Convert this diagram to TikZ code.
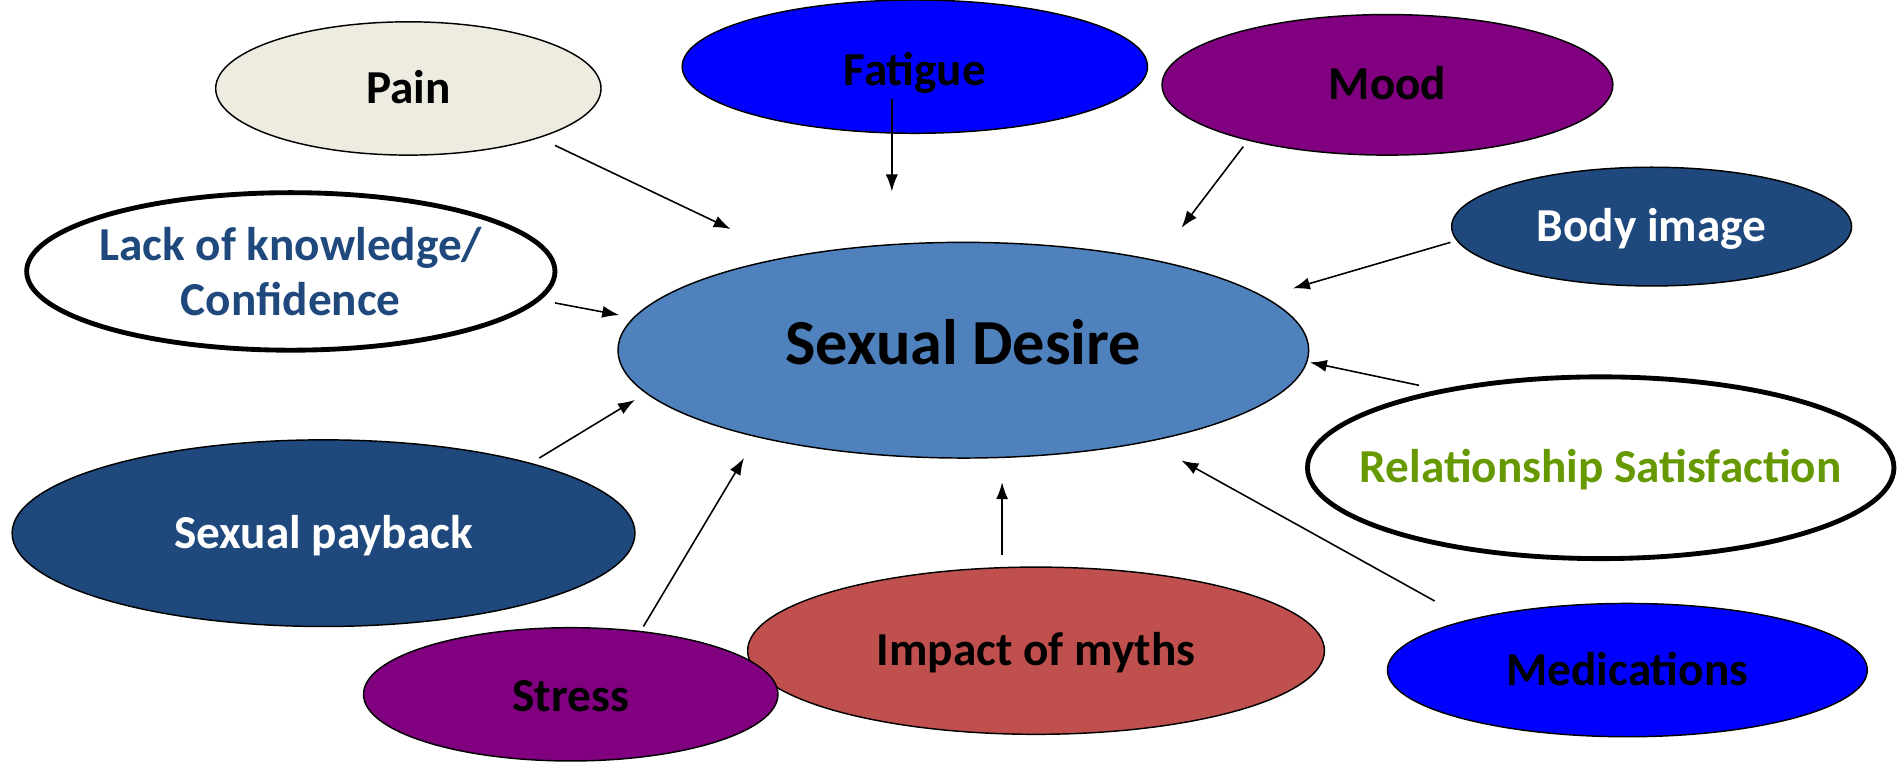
\documentclass[tikz,border=0pt]{standalone}
\usepackage{fontspec}
\setmainfont{Carlito}
\usetikzlibrary{shapes.geometric,arrows.meta}
\definecolor{beige}{HTML}{EEECE1}
\definecolor{pureblue}{HTML}{0000FF}
\definecolor{purp}{HTML}{800080}
\definecolor{navy}{HTML}{1F497D}
\definecolor{steel}{HTML}{4F81BD}
\definecolor{brick}{HTML}{C0504D}
\definecolor{leaf}{HTML}{669900}
\tikzset{
  oval/.style={ellipse, draw=black, line width=1.2pt, inner sep=0pt},
  thickoval/.style={oval, line width=4pt, fill=white},
  txt/.style={font=\fontsize{39}{45}\selectfont\bfseries, align=center,
    inner sep=0pt, text height=25pt, text depth=0pt},
  bigtxt/.style={font=\fontsize{53}{60}\selectfont\bfseries, align=center,
    inner sep=0pt, text height=34pt, text depth=0pt},
  txttwo/.style={font=\fontsize{39}{45}\selectfont\bfseries, align=center, inner sep=0pt},
  conn/.style={line width=1.3pt, -{Latex[length=14pt,width=10pt]}}
}
\begin{document}
\begin{tikzpicture}[x=1pt,y=-1pt]
\useasboundingbox (0,0) rectangle (1568,629);
% central
\node[oval, fill=steel, minimum width=570pt, minimum height=178pt,
  label={[bigtxt, yshift=5pt]center:Sexual Desire}] (desire) at (795,289) {};
% surrounding
\node[oval, fill=beige, minimum width=318pt, minimum height=110pt,
  label={[txt]center:Pain}] (pain) at (337,73) {};
\node[oval, fill=pureblue, minimum width=384pt, minimum height=110pt,
  label={[txt, yshift=-3pt]center:Fatigue}] (fatigue) at (755,55) {};
\node[oval, fill=purp, minimum width=372pt, minimum height=116pt,
  label={[txt]center:Mood}] (mood) at (1145,70) {};
\node[oval, fill=navy, minimum width=330pt, minimum height=98pt,
  label={[txt, text=white]center:Body image}] (body) at (1363,187) {};
\node[thickoval, minimum width=436pt, minimum height=130pt,
  label={[txttwo, text=navy]center:{Lack of knowledge/\\Confidence}}] (lack) at (240,224) {};
\node[thickoval, minimum width=484pt, minimum height=150pt,
  label={[txt, text=leaf]center:Relationship Satisfaction}] (rel) at (1321,386) {};
\node[oval, fill=navy, minimum width=514pt, minimum height=154pt,
  label={[txt, text=white]center:Sexual payback}] (payback) at (267,440) {};
\node[oval, fill=brick, minimum width=476pt, minimum height=138pt,
  label={[txt]center:Impact of myths}] (myths) at (855,537) {};
\node[oval, fill=purp, minimum width=342pt, minimum height=110pt,
  label={[txt, yshift=-2pt]center:Stress}] (stress) at (471,573) {};
\node[oval, fill=pureblue, minimum width=396pt, minimum height=110pt,
  label={[txt]center:Medications}] (meds) at (1343,553) {};
% connector end points
\coordinate (painS) at (458,120);  \coordinate (painE) at (603,189);
\coordinate (fatS) at (736,82);    \coordinate (fatE) at (736,158);
\coordinate (moodS) at (1026,121); \coordinate (moodE) at (975,188);
\coordinate (bodyS) at (1197,200); \coordinate (bodyE) at (1067,238);
\coordinate (lackS) at (458,250);  \coordinate (lackE) at (511,260);
\coordinate (relS) at (1171,318);  \coordinate (relE) at (1081,299);
\coordinate (payS) at (445,378);   \coordinate (payE) at (524,330);
\coordinate (strS) at (531,517);   \coordinate (strE) at (614,378);
\coordinate (mytS) at (827,458);   \coordinate (mytE) at (827,398);
\coordinate (medS) at (1184,496);  \coordinate (medE) at (975,380);
\draw[conn] (painS) -- (painE);
\draw[conn] (fatS) -- (fatE);
\draw[conn] (moodS) -- (moodE);
\draw[conn] (bodyS) -- (bodyE);
\draw[conn] (lackS) -- (lackE);
\draw[conn] (relS) -- (relE);
\draw[conn] (payS) -- (payE);
\draw[conn] (strS) -- (strE);
\draw[conn] (mytS) -- (mytE);
\draw[conn] (medS) -- (medE);
\end{tikzpicture}
\end{document}
